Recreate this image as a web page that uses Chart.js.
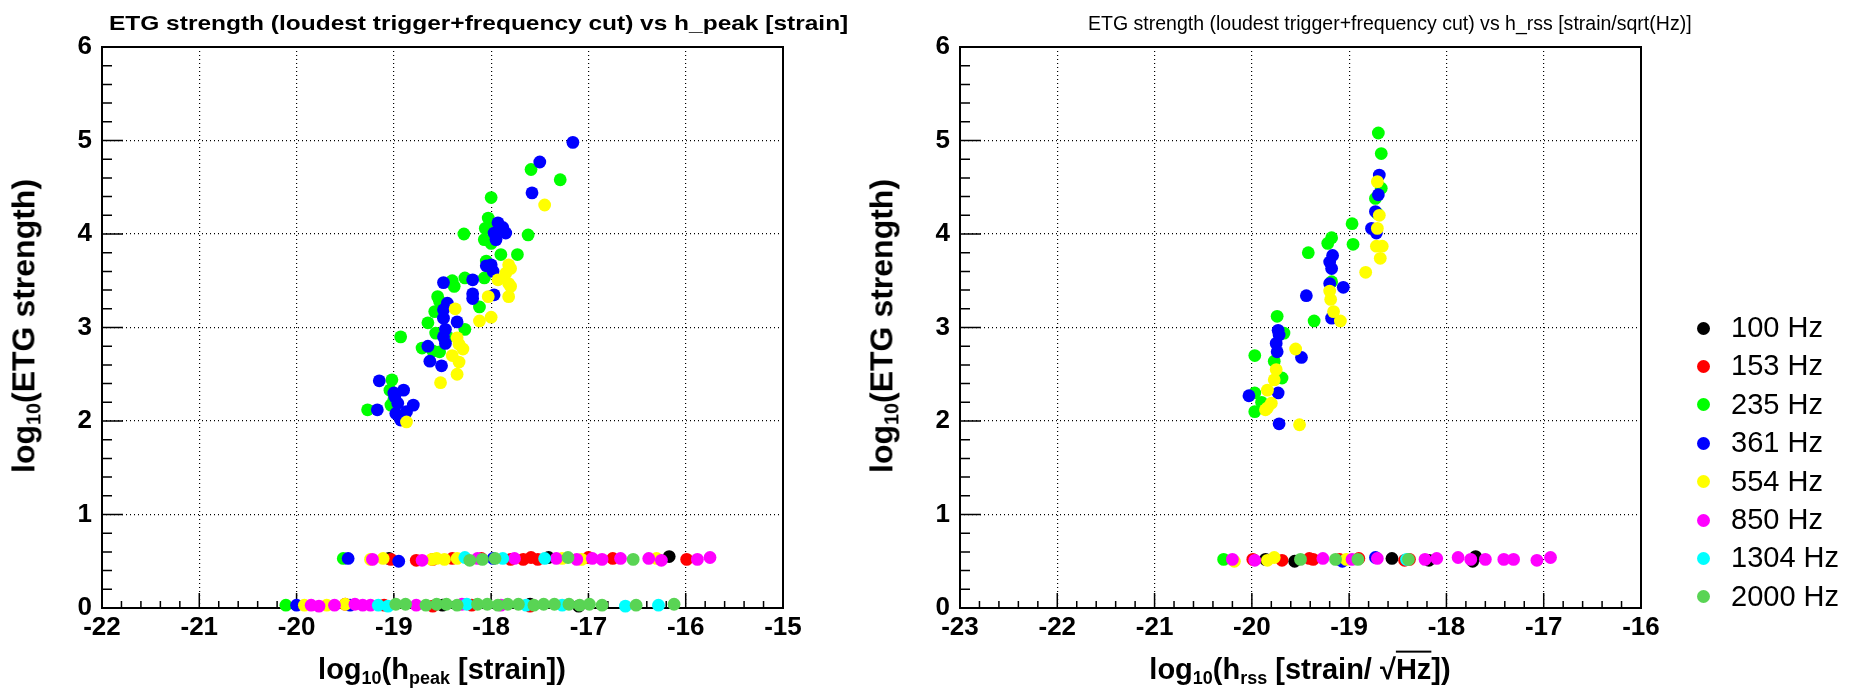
<!DOCTYPE html>
<html><head><meta charset="utf-8">
<script src="https://cdn.jsdelivr.net/npm/chart.js@4.4.1/dist/chart.umd.min.js"></script>
<style>
html,body{margin:0;padding:0;background:#fff;}
#wrap{position:relative;width:1869px;height:691px;overflow:hidden;background:#fff;font-family:"Liberation Sans",Arial,Helvetica,sans-serif;color:#000;}
canvas{position:absolute;left:0;top:0;}
.txt{position:absolute;white-space:nowrap;line-height:1;}
.sub{font-size:62%;vertical-align:-0.32em;}
.leg{position:absolute;white-space:nowrap;font-size:29px;line-height:1;}
.dot{position:absolute;width:13px;height:13px;border-radius:50%;}
</style></head><body>
<div id="wrap">
<canvas id="c1" width="1869" height="691"></canvas>
<canvas id="c2" width="1869" height="691"></canvas>
<div class="txt" id="t1" style="left:109px;top:12px;font-size:21px;font-weight:bold;">ETG strength (loudest trigger+frequency cut) vs h_peak [strain]</div>
<div class="txt" id="t2" style="left:1088px;top:13px;font-size:20px;">ETG strength (loudest trigger+frequency cut) vs h_rss [strain/sqrt(Hz)]</div>
<div class="txt" id="yt1" style="left:26px;top:326px;font-size:32px;font-weight:bold;transform:translate(-50%,-50%) rotate(-90deg);">log<span class="sub">10</span>(ETG strength)</div>
<div class="txt" id="yt2" style="left:884px;top:326px;font-size:32px;font-weight:bold;transform:translate(-50%,-50%) rotate(-90deg);">log<span class="sub">10</span>(ETG strength)</div>
<div class="txt" id="xt1" style="left:442px;top:671px;font-size:29px;font-weight:bold;transform:translate(-50%,-50%);">log<span class="sub">10</span>(h<span class="sub">peak</span> [strain])</div>
<div class="txt" id="xt2" style="left:1300px;top:671px;font-size:29px;font-weight:bold;transform:translate(-50%,-50%);">log<span class="sub">10</span>(h<span class="sub">rss</span> [strain/ √<span style="text-decoration:overline;">Hz</span>])</div>
<div id="legend"></div>
</div>
<script>
// ---- series ----
const SERIES = ["100 Hz","153 Hz","235 Hz","361 Hz","554 Hz","850 Hz","1304 Hz","2000 Hz"];
const COLORS = ["#000000","#ff0000","#00ff00","#0000ff","#ffff00","#ff00ff","#00ffff","#59d454"];

// ---- axis ranges ----
const PEAK_X_RANGE = [-22, -15];
const RSS_X_RANGE = [-23, -16];
const Y_RANGE = [0, 6];

// ---- left panel: log10(h_peak) vs log10(ETG strength) ----
const peak_100Hz = [[-19.05,0.53],[-17.41,0.54],[-16.17,0.55],[-18.5,0.03],[-17.1,0.02],[-17.6,0.04]];
const peak_153Hz = [[-19.03,0.52],[-18.77,0.51],[-18.40,0.53],[-17.67,0.52],[-17.59,0.54],[-17.52,0.52],[-18.1,0.53],[-17.8,0.52],[-16.75,0.53],[-15.99,0.52],[-17.0,0.54],[-18.6,0.52],
  [-19.1,0.03],[-18.6,0.02],[-18.2,0.03],[-17.6,0.02],[-19.5,0.04]];
const peak_235Hz = [[-17.59,4.69],[-17.29,4.58],[-18.0,4.39],[-18.03,4.17],[-18.06,4.06],[-18.28,4.0],[-17.62,3.99],[-18.07,3.94],[-17.9,3.78],[-17.73,3.78],[-18.05,3.71],[-18.07,3.53],[-18.4,3.5],[-18.38,3.44],[-18.27,3.53],[-18.55,3.33],[-18.53,3.28],[-18.58,3.17],[-18.12,3.22],[-18.65,3.05],[-18.27,2.98],[-18.57,2.94],[-18.93,2.9],[-18.71,2.78],[-18.53,2.74],[-19.02,2.44],[-19.04,2.33],[-19.0,2.23],[-19.27,2.12],[-19.03,2.17],[-17.95,4.1],[-18.0,3.9],[-18.6,2.75],[-18.45,2.9],
  [-19.52,0.53],[-20.11,0.03]];
const peak_361Hz = [[-17.16,4.98],[-17.50,4.77],[-17.58,4.44],[-17.93,4.12],[-17.88,4.07],[-17.97,4.01],[-17.85,4.01],[-17.95,3.94],[-18.05,3.66],[-18.0,3.67],[-17.98,3.6],[-18.19,3.51],[-18.49,3.48],[-18.19,3.36],[-18.19,3.31],[-17.97,3.35],[-18.45,3.26],[-18.49,3.19],[-18.49,3.1],[-18.35,3.06],[-18.47,2.98],[-18.49,2.9],[-18.47,2.83],[-18.65,2.8],[-18.63,2.64],[-18.51,2.59],[-19.15,2.43],[-18.99,2.26],[-18.9,2.33],[-18.96,2.19],[-18.98,2.08],[-18.93,2.01],[-18.87,2.1],[-18.8,2.17],[-19.17,2.12],[-19.0,2.3],
  [-19.47,0.53],[-18.95,0.50],[-17.98,0.53],[-20.0,0.03],[-19.45,0.03]];
const peak_554Hz = [[-17.45,4.31],[-17.82,3.67],[-17.8,3.63],[-17.85,3.58],[-17.93,3.51],[-17.82,3.47],[-17.8,3.44],[-17.82,3.33],[-18.03,3.33],[-18.37,3.2],[-18.12,3.07],[-18.0,3.11],[-18.35,2.89],[-18.33,2.82],[-18.29,2.77],[-18.4,2.7],[-18.33,2.63],[-18.35,2.5],[-18.52,2.41],[-18.87,1.99],
  [-19.24,0.52],[-19.11,0.53],[-18.61,0.52],[-18.56,0.53],[-18.48,0.52],[-18.35,0.53],[-17.27,0.53],[-17.07,0.52],[-16.30,0.53],[-19.92,0.03],[-19.69,0.03],[-19.50,0.04]];
const peak_850Hz = [[-19.22,0.52],[-18.71,0.51],[-18.14,0.53],[-17.76,0.53],[-17.33,0.53],[-17.12,0.52],[-16.96,0.53],[-16.86,0.52],[-16.67,0.53],[-16.38,0.53],[-16.25,0.51],[-15.88,0.52],[-15.75,0.54],
  [-19.85,0.03],[-19.77,0.02],[-19.61,0.03],[-19.40,0.04],[-19.32,0.03],[-19.24,0.03],[-18.77,0.03],[-18.3,0.04],[-17.9,0.03]];
const peak_1304Hz = [[-18.27,0.54],[-17.88,0.53],[-17.45,0.53],[-19.16,0.03],[-19.06,0.02],[-18.25,0.04],[-17.64,0.03],[-17.27,0.03],[-16.62,0.02],[-16.28,0.03]];
const peak_2000Hz = [[-18.22,0.51],[-18.09,0.52],[-17.96,0.53],[-17.21,0.54],[-16.54,0.52],
  [-18.98,0.04],[-18.88,0.04],[-18.67,0.03],[-18.56,0.04],[-18.46,0.04],[-18.35,0.03],[-18.14,0.04],[-18.04,0.04],[-17.93,0.03],[-17.83,0.04],[-17.72,0.04],[-17.56,0.03],[-17.46,0.04],[-17.35,0.04],[-17.20,0.04],[-17.09,0.03],[-16.99,0.04],[-16.86,0.03],[-16.51,0.03],[-16.12,0.04]];

// ---- right panel: log10(h_rss) vs log10(ETG strength) ----
const rss_100Hz = [[-19.86,0.52],[-19.56,0.50],[-18.56,0.53],[-18.18,0.51],[-17.73,0.50],[-17.7,0.55]];
const rss_153Hz = [[-19.99,0.52],[-19.69,0.51],[-19.41,0.53],[-19.37,0.52],[-19.10,0.52],[-18.9,0.53],[-18.43,0.51],[-18.38,0.52]];
const rss_235Hz = [[-18.70,5.08],[-18.67,4.86],[-18.67,4.49],[-18.73,4.38],[-18.71,4.22],[-18.97,4.11],[-19.18,3.96],[-19.22,3.9],[-18.96,3.89],[-19.42,3.8],[-19.18,3.49],[-19.36,3.07],[-19.74,3.12],[-19.67,2.94],[-19.97,2.7],[-19.77,2.64],[-19.69,2.46],[-19.97,2.3],[-19.97,2.1],[-19.9,2.2],
  [-20.29,0.52]];
const rss_361Hz = [[-18.69,4.63],[-18.70,4.42],[-18.73,4.24],[-18.77,4.06],[-18.72,4.01],[-19.17,3.77],[-19.2,3.7],[-19.18,3.63],[-19.2,3.47],[-19.06,3.43],[-19.44,3.34],[-19.18,3.1],[-19.73,2.97],[-19.72,2.92],[-19.75,2.83],[-19.74,2.74],[-19.49,2.68],[-19.73,2.3],[-20.03,2.27],[-19.72,1.97],
  [-19.07,0.50],[-18.73,0.54]];
const rss_554Hz = [[-18.71,4.56],[-18.69,4.2],[-18.71,4.06],[-18.72,3.87],[-18.66,3.87],[-18.68,3.74],[-18.83,3.59],[-19.2,3.39],[-19.19,3.3],[-19.16,3.17],[-19.09,3.07],[-19.55,2.77],[-19.75,2.55],[-19.77,2.44],[-19.84,2.33],[-19.8,2.19],[-19.84,2.14],[-19.86,2.12],[-19.51,1.96],
  [-20.18,0.50],[-19.84,0.51],[-19.77,0.54],[-19.03,0.52]];
const rss_850Hz = [[-20.2,0.52],[-19.97,0.51],[-19.27,0.53],[-18.97,0.52],[-18.71,0.53],[-18.22,0.52],[-18.1,0.53],[-17.88,0.54],[-17.75,0.52],[-17.6,0.52],[-17.41,0.52],[-17.31,0.52],[-17.07,0.51],[-16.93,0.54]];
const rss_1304Hz = [[-18.41,0.52]];
const rss_2000Hz = [[-19.5,0.52],[-19.14,0.52],[-18.91,0.52],[-18.39,0.52]];

const PEAK = [peak_100Hz,peak_153Hz,peak_235Hz,peak_361Hz,peak_554Hz,peak_850Hz,peak_1304Hz,peak_2000Hz];
const RSS  = [rss_100Hz,rss_153Hz,rss_235Hz,rss_361Hz,rss_554Hz,rss_850Hz,rss_1304Hz,rss_2000Hz];

// ---- layout ----
const W = 1869, H = 691;
const Y_AXIS_W = 60, X_AXIS_H = 40;
const FONT = '"Liberation Sans", Arial, Helvetica, sans-serif';

const frameTicks = {
  id: 'frameTicks',
  beforeDatasetsDraw(chart) {
    const {ctx, chartArea: a, scales: {x, y}} = chart;
    ctx.save();
    ctx.strokeStyle = '#000';
    ctx.lineWidth = 1.5;
    ctx.beginPath();
    const nx = Math.round((x.max - x.min) / 0.2);
    for (let i = 0; i <= nx; i++) {
      const px = x.getPixelForValue(x.min + i * 0.2);
      const len = (i % 5 === 0) ? 15 : 7;
      ctx.moveTo(px, a.bottom); ctx.lineTo(px, a.bottom - len);
    }
    const ny = Math.round((y.max - y.min) / 0.2);
    for (let i = 0; i <= ny; i++) {
      const py = y.getPixelForValue(y.min + i * 0.2);
      const len = (i % 5 === 0) ? 21 : 10;
      ctx.moveTo(a.left, py); ctx.lineTo(a.left + len, py);
    }
    ctx.stroke();
    ctx.lineWidth = 2;
    ctx.strokeRect(a.left, a.top, a.right - a.left, a.bottom - a.top);
    ctx.restore();
  }
};

function makeChart(id, data, xr, area) {
  const datasets = SERIES.map((name, i) => ({
    label: name,
    data: data[i].map(p => ({x: p[0], y: p[1]})),
    backgroundColor: COLORS[i],
    borderWidth: 0,
    pointRadius: 6.4,
    pointHoverRadius: 6.4,
    order: SERIES.length - i,
    clip: false
  }));
  const tickFont = {family: FONT, size: 26, weight: 'bold'};
  return new Chart(document.getElementById(id), {
    type: 'scatter',
    data: {datasets},
    plugins: [frameTicks],
    options: {
      responsive: false, animation: false, events: [],
      layout: {padding: {left: area.left - Y_AXIS_W, right: W - area.right, top: area.top, bottom: H - area.bottom - X_AXIS_H}},
      plugins: {legend: {display: false}, tooltip: {enabled: false}, title: {display: false}},
      scales: {
        x: {
          type: 'linear', min: xr[0], max: xr[1],
          afterFit: s => { s.height = X_AXIS_H; },
          ticks: {stepSize: 1, font: tickFont, color: '#000', padding: 4, maxRotation: 0, autoSkip: false, callback: v => String(v)},
          grid: {color: '#000', lineWidth: 1.2, drawTicks: false},
          border: {display: false, dash: [1, 3]}
        },
        y: {
          type: 'linear', min: Y_RANGE[0], max: Y_RANGE[1],
          afterFit: s => { s.width = Y_AXIS_W; },
          ticks: {stepSize: 1, font: tickFont, color: '#000', padding: 10, callback: v => String(v)},
          grid: {color: '#000', lineWidth: 1.2, drawTicks: false},
          border: {display: false, dash: [1, 3]}
        }
      }
    }
  });
}

makeChart('c1', PEAK, PEAK_X_RANGE, {left: 102, right: 783, top: 47, bottom: 608});
makeChart('c2', RSS, RSS_X_RANGE, {left: 960, right: 1641, top: 47, bottom: 608});

// ---- titles: fit to the reference's text extent ----
function fitTitle(id, left, targetW) {
  const el = document.getElementById(id);
  const w = el.offsetWidth;
  el.style.left = left + 'px';
  el.style.transformOrigin = '0 50%';
  el.style.transform = 'scaleX(' + (targetW / w) + ')';
}
fitTitle('t1', 109, 739);
fitTitle('t2', 1088, 604);

// ---- legend ----
const leg = document.getElementById('legend');
SERIES.forEach((name, i) => {
  const cy = 328 + i * 38.4;
  const d = document.createElement('div');
  d.className = 'dot';
  d.style.left = (1703 - 6.5) + 'px';
  d.style.top = (cy - 6.5) + 'px';
  d.style.background = COLORS[i];
  leg.appendChild(d);
  const t = document.createElement('div');
  t.className = 'leg';
  t.style.left = '1731px';
  t.style.top = (cy - 15) + 'px';
  t.textContent = name;
  leg.appendChild(t);
});
</script>
</body></html>
